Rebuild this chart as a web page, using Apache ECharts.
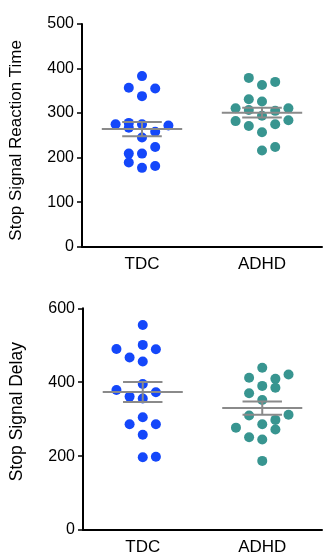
<!DOCTYPE html>
<html>
<head>
<meta charset="utf-8">
<script src="https://cdn.jsdelivr.net/npm/echarts@6/dist/echarts.min.js"></script>
<style>
html,body{margin:0;padding:0;background:#fff;}
#chart{width:325px;height:559px;}
</style>
</head>
<body>
<div id="chart"></div>
<script>
// ---- data ----
var categories = ['TDC', 'ADHD'];

// Stop Signal Reaction Time
var ssrtTDC = [383, 357, 355, 338, 275, 278, 275, 272, 267, 258, 245, 224, 209, 209, 189, 181, 177];
var ssrtTDCcol = [0, -1, 1, 0, -2, -1, 0, 2, -1, 1, 0, 1, -1, 0, -1, 1, 0];
var ssrtADHD = [379, 370, 363, 331, 326, 311, 311, 307, 305, 294, 282, 284, 275, 271, 257, 224, 216];
var ssrtADHDcol = [-1, 1, 0, -1, 0, -2, 2, -1, 1, 0, -2, 2, 1, -1, 0, 1, 0];
var ssrtMean = [264, 301];
var ssrtSem = [16, 11];
var ssrtTicks = [0, 100, 200, 300, 400, 500];

// Stop Signal Delay
var ssdTDC = [555, 501, 490, 489, 467, 456, 395, 379, 373, 361, 356, 305, 286, 286, 258, 197, 198];
var ssdTDCcol = [0, 0, -2, 1, -1, 0, 0, -2, 1, -1, 0, 0, -1, 1, 0, 0, 1];
var ssdADHD = [439, 412, 421, 409, 390, 385, 370, 352, 310, 312, 298, 277, 286, 272, 251, 245, 187];
var ssdADHDcol = [0, -1, 2, 1, 0, 1, -1, 0, -1, 2, 1, -2, 0, 1, -1, 0, 0];
var ssdMean = [373.5, 330];
var ssdSem = [27, 18];
var ssdTicks = [0, 200, 400, 600];

// ---- styling ----
var FONT = 'Liberation Sans';
var BLUE = '#1447fa';
var TEAL = '#389590';
var GRAY = '#8a8a8a';
var COLSTEP = 0.11;

function pts(vals, cols, catIdx) {
  return vals.map(function (v, i) { return [catIdx + cols[i] * COLSTEP, v]; });
}

function meanSem(means, sems) {
  return means.map(function (m, i) { return [i, m, sems[i]]; });
}

function renderMean(params, api) {
  var x = api.value(0), m = api.value(1), s = api.value(2);
  var c = api.coord([x, m]);
  var cu = api.coord([x, m + s]);
  var cl = api.coord([x, m - s]);
  var half = api.size([0.335, 0])[0];
  var halfS = api.size([0.165, 0])[0];
  var st = { stroke: GRAY, lineWidth: 2 };
  return {
    type: 'group',
    children: [
      { type: 'line', shape: { x1: c[0] - half, y1: c[1], x2: c[0] + half, y2: c[1] }, style: st },
      { type: 'line', shape: { x1: cu[0] - halfS, y1: cu[1], x2: cu[0] + halfS, y2: cu[1] }, style: st },
      { type: 'line', shape: { x1: cl[0] - halfS, y1: cl[1], x2: cl[0] + halfS, y2: cl[1] }, style: st },
      { type: 'line', shape: { x1: c[0], y1: cu[1], x2: c[0], y2: cl[1] }, style: st }
    ]
  };
}

var grids = [
  { left: 78, right: 3, top: 24, height: 222.7 },
  { left: 78, right: 3, top: 308.3, height: 221.7 }
];

function catAxis(gi) {
  return {
    type: 'category', gridIndex: gi, data: categories, boundaryGap: true,
    axisLine: { onZero: false, lineStyle: { color: '#000', width: 2 } },
    axisTick: { alignWithLabel: true, length: 5, lineStyle: { color: '#000', width: 1.5 } },
    axisLabel: { color: '#000', fontFamily: FONT, fontSize: 17, margin: 9 },
    splitLine: { show: false }
  };
}
function valX(gi) {
  return { type: 'value', gridIndex: gi, min: -0.5, max: 1.5, show: false, splitLine: { show: false } };
}
function valY(gi, ticks, name, nameSize, namePad) {
  return {
    type: 'value', gridIndex: gi, min: ticks[0], max: ticks[ticks.length - 1],
    interval: ticks[1] - ticks[0],
    name: name, nameLocation: 'middle', nameGap: 57,
    nameTextStyle: { color: '#000', fontFamily: FONT, fontSize: nameSize, padding: namePad },
    axisLine: { show: true, onZero: false, lineStyle: { color: '#000', width: 2 } },
    axisTick: { show: true, length: 5, lineStyle: { color: '#000', width: 1.5 } },
    axisLabel: { color: '#000', fontFamily: FONT, fontSize: 16, margin: 8 },
    splitLine: { show: false }
  };
}

var option = {
  animation: false,
  backgroundColor: '#fff',
  grid: grids,
  xAxis: [catAxis(0), valX(0), catAxis(1), valX(1)],
  yAxis: [
    valY(0, ssrtTicks, 'Stop Signal Reaction Time', 17, [0, 10, 0, 0]),
    valY(1, ssdTicks, 'Stop Signal Delay', 17.5, [0, 0, 0, 15])
  ],
  series: [
    { type: 'scatter', xAxisIndex: 1, yAxisIndex: 0, data: pts(ssrtTDC, ssrtTDCcol, 0), symbolSize: 10, itemStyle: { color: BLUE, opacity: 1 } },
    { type: 'scatter', xAxisIndex: 1, yAxisIndex: 0, data: pts(ssrtADHD, ssrtADHDcol, 1), symbolSize: 10, itemStyle: { color: TEAL, opacity: 1 } },
    { type: 'custom', xAxisIndex: 1, yAxisIndex: 0, data: meanSem(ssrtMean, ssrtSem), renderItem: renderMean, z: 5 },
    { type: 'scatter', xAxisIndex: 3, yAxisIndex: 1, data: pts(ssdTDC, ssdTDCcol, 0), symbolSize: 10, itemStyle: { color: BLUE, opacity: 1 } },
    { type: 'scatter', xAxisIndex: 3, yAxisIndex: 1, data: pts(ssdADHD, ssdADHDcol, 1), symbolSize: 10, itemStyle: { color: TEAL, opacity: 1 } },
    { type: 'custom', xAxisIndex: 3, yAxisIndex: 1, data: meanSem(ssdMean, ssdSem), renderItem: renderMean, z: 5 }
  ]
};

var chart = echarts.init(document.getElementById('chart'), null, { renderer: 'canvas' });
chart.setOption(option);
</script>
</body>
</html>
